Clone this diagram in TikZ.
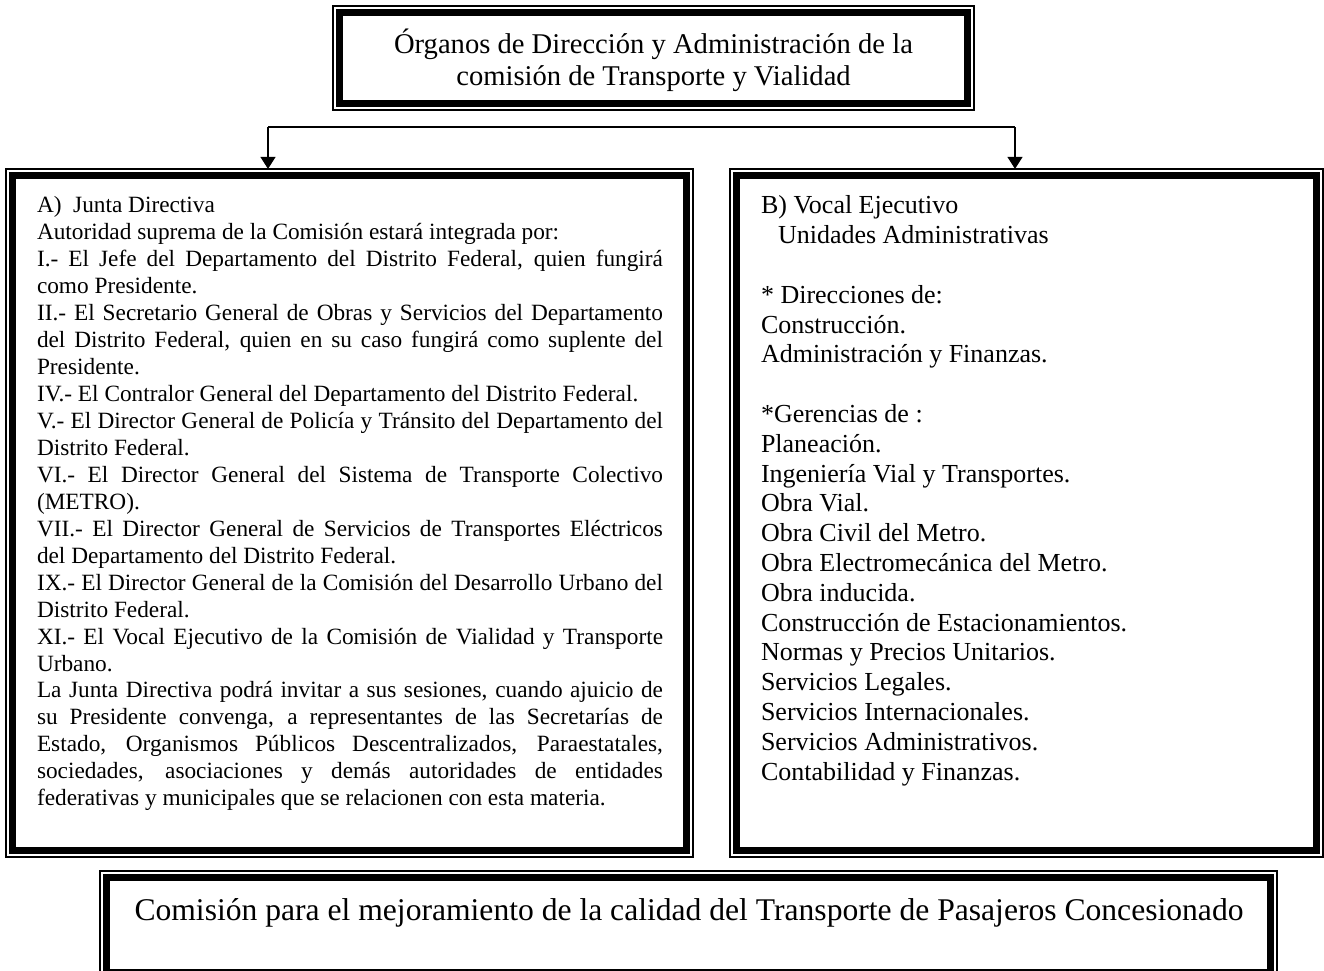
\documentclass[tikz,border=0pt]{standalone}
\usepackage{fontspec}
\setmainfont{Liberation Serif}
\usetikzlibrary{arrows.meta,calc}
\begin{document}
\begin{tikzpicture}[x=1pt,y=-1pt,
  frame/.style={rectangle, draw, line width=1.2pt, inner sep=0pt, fill=white,
    path picture={\draw[line width=7pt]
      ([shift={(6.5pt,6.5pt)}]path picture bounding box.south west) rectangle
      ([shift={(-6.5pt,-6.5pt)}]path picture bounding box.north east);}},
  conn/.style={line width=1.2pt},
  arr/.style={line width=1.2pt, -{Triangle[length=12pt,width=15pt]}, shorten >=-0.5pt},
  txt/.style={inner sep=0pt, outer sep=0pt}
]
\useasboundingbox (0,0) rectangle (1324,970);
\fill[white] (0,0) rectangle (1324,970);
\begin{scope}
\clip (0,0) rectangle (1324,970);
% frames
\node[frame, minimum width=641pt, minimum height=104pt] (top) at (653.5,58) {};
\node[frame, minimum width=687pt, minimum height=688pt] (left) at (349.5,513) {};
\node[frame, minimum width=593pt, minimum height=688pt] (right) at (1026.5,513) {};
\node[frame, minimum width=1177pt, minimum height=108pt] (bottom) at (688.5,925) {};

% title
\node[txt, anchor=north, align=center, font=\fontsize{28.6}{32}\selectfont] (ttl) at (653.5,29)
  {\strut Órganos de Dirección y Administración de la\\comisión de Transporte y Vialidad};

% connectors
\coordinate (j1) at (268,127);
\coordinate (j2) at (1015,127);
\draw[conn] (j1) -- (j2);
\draw[arr] (j1) -- (j1 |- left.north);
\draw[arr] (j2) -- (j2 |- right.north);

% left text
\node[txt, anchor=north west, text width=626pt, align=justify,
  font=\fontsize{23.3}{26.95}\selectfont] (ltext) at (37,194) {%
\hyphenpenalty=10000\emergencystretch=3em
\strut A)\ \ Junta Directiva\par
Autoridad suprema de la Comisión estará integrada por:\par
I.- El Jefe del Departamento del Distrito Federal, quien fungirá\linebreak
como Presidente.\par
II.- El Secretario General de Obras y Servicios del Departamento\linebreak
del Distrito Federal, quien en su caso fungirá como suplente del\linebreak
Presidente.\par
IV.- El Contralor General del Departamento del Distrito Federal.\par
V.- El Director General de Policía y Tránsito del Departamento del\linebreak
Distrito Federal.\par
VI.- El Director General del Sistema de Transporte Colectivo\linebreak
(METRO).\par
VII.- El Director General de Servicios de Transportes Eléctricos\linebreak
del Departamento del Distrito Federal.\par
IX.- El Director General de la Comisión del Desarrollo Urbano del\linebreak
Distrito Federal.\par
XI.- El Vocal Ejecutivo de la Comisión de Vialidad y Transporte\linebreak
Urbano.\par
La Junta Directiva podrá invitar a sus sesiones, cuando ajuicio de\linebreak
su Presidente convenga, a representantes de las Secretarías de\linebreak
Estado, Organismos Públicos Descentralizados, Paraestatales,\linebreak
sociedades, asociaciones y demás autoridades de entidades\linebreak
federativas y municipales que se relacionen con esta materia.\par};

% right text
\node[txt, anchor=north west, align=left,
  font=\fontsize{26}{29.8}\selectfont] (rtext) at (761,193) {%
\strut B) Vocal Ejecutivo\\
\hspace*{17pt}Unidades Administrativas\\
\mbox{}\\
* Direcciones de:\\
Construcción.\\
Administración y Finanzas.\\
\mbox{}\\
*Gerencias de :\\
Planeación.\\
Ingeniería Vial y Transportes.\\
Obra Vial.\\
Obra Civil del Metro.\\
Obra Electromecánica del Metro.\\
Obra inducida.\\
Construcción de Estacionamientos.\\
Normas y Precios Unitarios.\\
Servicios Legales.\\
Servicios Internacionales.\\
Servicios Administrativos.\\
Contabilidad y Finanzas.};

% bottom text
\node[txt, anchor=base, font=\fontsize{31.6}{36}\selectfont] (btext) at (689,920)
  {Comisión para el mejoramiento de la calidad del Transporte de Pasajeros Concesionado};
\end{scope}
\end{tikzpicture}
\end{document}
